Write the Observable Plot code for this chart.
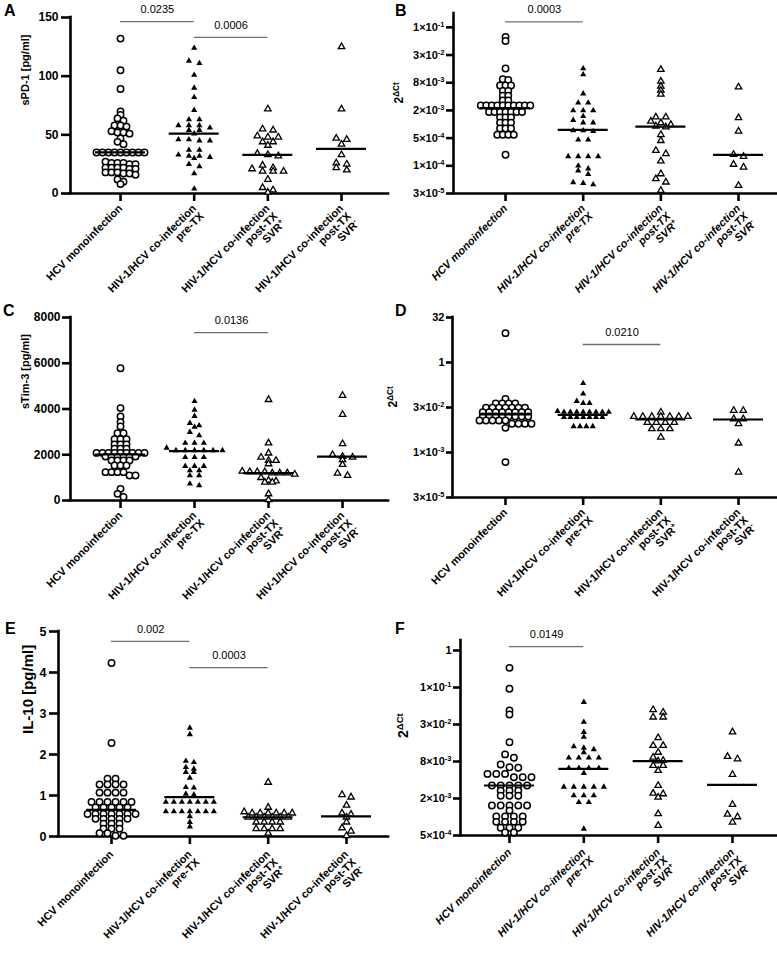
<!DOCTYPE html>
<html><head><meta charset="utf-8">
<script src="https://cdn.jsdelivr.net/npm/d3@7"></script>
<script src="https://cdn.jsdelivr.net/npm/@observablehq/plot@0.6"></script>
<style>
body{margin:0;background:#fff;}
#wrap{position:relative;width:777px;height:956px;overflow:hidden;font-family:"Liberation Sans",Arial,sans-serif;}
.cell{position:absolute;}
.cell svg{overflow:visible;}
.letter{position:absolute;font:bold 16px "Liberation Sans",Arial,sans-serif;line-height:1;}
</style></head>
<body><div id="wrap"></div>
<script>
// ---------- categories ----------
const categories = ["HCV monoinfection", "HIV-1/HCV co-infection\npre-TX", "HIV-1/HCV co-infection\npost-TX\nSVR^+", "HIV-1/HCV co-infection\npost-TX\nSVR^-"];

// ---------- A: sPD-1 [pg/ml] ----------
const sPD1_mono = [132,105,89,70,67,64,62,58,58,57,53,52,52,51,47,44,42,35,35,35,35,35,35,35,35,35,27,26,26,26,25,25,22,22,22,22,21,21,18,18,18,17,17,16,12,10,8];
const sPD1_pre = [124,113,111,101,90,82,71,63,63,58,58,58,56,54,54,51,46,46,45,45,37,37,33,32,32,31,30,25,23,17,4];
const sPD1_svrPos = [72,55,54,49,48,48,44,44,41,34,33,32,24,22,21,19,19,19,12,5,3,1];
const sPD1_svrNeg = [125,72,47,46,42,33,26,25,22,20];
const sPD1_medians = [35,51,33,38];
const sPD1_pvals = [{a:0,b:1,y:146.5,t:"0.0235"},{a:1,b:2,y:133,t:"0.0006"}];
const sPD1_ticks = [0,50,100,150];
const sPD1_tickLabels = ["0","50","100","150"];

// ---------- B: PD-1 mRNA 2^ΔCt ----------
const pd1m_mono = [0.0769,0.0629,0.0159,0.0093,0.0090,0.0068,0.0068,0.0068,0.0052,0.0052,0.0041,0.0041,0.0032,0.0032,0.0025,0.0025,0.0025,0.0025,0.0025,0.0025,0.0025,0.0025,0.0025,0.0025,0.0018,0.0018,0.0018,0.0018,0.0018,0.0018,0.0018,0.00138,0.00138,0.00138,0.00105,0.00105,0.00105,0.00079,0.00079,0.00079,0.00058,0.00058,0.00058,0.00058,0.000213];
const pd1m_pre = [0.0159,0.0118,0.00452,0.00286,0.00286,0.00195,0.00195,0.00195,0.00146,0.00120,0.00106,0.00106,0.000714,0.000714,0.00069,0.000449,0.000449,0.000195,0.000195,0.000195,0.000195,0.000122,0.000106,0.0000956,0.0000804,0.0000531,0.0000513,0.0000478];
const pd1m_svrPos = [0.0151,0.00838,0.00654,0.00534,0.00437,0.00140,0.00140,0.00113,0.00105,0.00096,0.00089,0.00085,0.00058,0.00043,0.000263,0.000223,0.000155,0.0000815,0.0000636,0.0000539,0.0000355];
const pd1m_svrNeg = [0.0063,0.00135,0.00069,0.000215,0.000195,0.000131,0.000114,0.0000455];
const pd1m_medians = [0.0022,0.00074,0.00087,0.00021];
const pd1m_pvals = [{a:0,b:1,y:0.164,t:"0.0003"}];
const pd1m_ticks = [0.000030517578125,0.0001220703125,0.00048828125,0.001953125,0.0078125,0.03125,0.125];
const pd1m_tickLabels = ["3×10^-5","1×10^-4","5×10^-4","2×10^-3","8×10^-3","3×10^-2","1×10^-1"];

// ---------- C: sTim-3 [pg/ml] ----------
const sTim3_mono = [5780,4040,3670,3420,3240,2940,2940,2680,2680,2680,2450,2450,2450,2260,2260,2260,2080,2080,2080,2080,2080,2080,2080,2080,2080,1920,1920,1920,1920,1920,1920,1750,1750,1750,1750,1530,1530,1530,1240,1240,1240,1240,1090,1090,510,290,150];
const sTim3_pre = [4340,3960,3690,3380,3280,3210,2990,2840,2510,2510,2510,2300,2190,2190,2190,2190,2190,2190,1890,1890,1890,1500,1500,1500,1310,1310,1090,1090,730,660];
const sTim3_svrPos = [4410,2510,2070,1890,1750,1750,1600,1280,1250,1250,1250,1200,1200,1200,1150,1000,880,850,800,800,290,30];
const sTim3_svrNeg = [4590,3760,2480,2000,1920,1890,1780,1570,1190,1090];
const sTim3_medians = [2010,2160,1200,1920];
const sTim3_pvals = [{a:1,b:2,y:7340,t:"0.0136"}];
const sTim3_ticks = [0,2000,4000,6000,8000];
const sTim3_tickLabels = ["0","2000","4000","6000","8000"];

// ---------- D: Tim-3 mRNA 2^ΔCt ----------
const tim3m_mono = [9.58,0.0608,0.0424,0.0424,0.0424,0.0424,0.0306,0.0306,0.0306,0.0306,0.0306,0.0306,0.0306,0.0218,0.0218,0.0218,0.0218,0.0218,0.0218,0.0218,0.0218,0.0156,0.0156,0.0156,0.0156,0.0156,0.0156,0.0156,0.0156,0.0115,0.0115,0.0115,0.0115,0.0115,0.00891,0.00891,0.00891,0.00891,0.00651,0.000466];
const tim3m_pre = [0.203,0.0896,0.0508,0.0436,0.0436,0.0235,0.0221,0.0221,0.0221,0.0221,0.0221,0.0221,0.0221,0.0221,0.0148,0.0148,0.0148,0.0148,0.0148,0.0148,0.0148,0.00729,0.00729,0.00729,0.00729];
const tim3m_svrPos = [0.0218,0.0156,0.0156,0.0156,0.0156,0.0156,0.0156,0.0156,0.00982,0.00982,0.00982,0.00982,0.00604,0.00604,0.00604,0.00318];
const tim3m_svrNeg = [0.0249,0.0249,0.0130,0.0130,0.00891,0.00201,0.000214];
const tim3m_medians = [0.0182,0.0178,0.0124,0.0124];
const tim3m_pvals = [{a:1,b:2,y:4,t:"0.0210"}];
const tim3m_ticks = [0.000030517578125,0.0009765625,0.03125,1,32];
const tim3m_tickLabels = ["3×10^-5","1×10^-3","3×10^-2","1","32"];

// ---------- E: IL-10 [pg/ml] ----------
const il10_mono = [4.23,2.28,1.41,1.41,1.27,1.27,1.27,1.27,1.07,1.07,1.07,1.07,0.84,0.84,0.84,0.84,0.84,0.84,0.71,0.71,0.71,0.71,0.71,0.55,0.55,0.55,0.55,0.55,0.55,0.55,0.43,0.43,0.43,0.43,0.43,0.31,0.31,0.31,0.19,0.19,0.19,0.08,0.08,0.02,0.02];
const il10_pre = [2.65,2.49,1.84,1.81,1.69,1.65,1.57,1.57,1.43,1.20,1.19,1.04,1.02,0.84,0.84,0.84,0.84,0.84,0.84,0.84,0.61,0.61,0.61,0.61,0.61,0.61,0.61,0.49,0.35,0.24];
const il10_svrPos = [1.32,0.71,0.60,0.57,0.57,0.57,0.57,0.57,0.57,0.47,0.47,0.47,0.47,0.47,0.47,0.35,0.35,0.35,0.35,0.19,0.19,0.19,0.19,0.08];
const il10_svrNeg = [1.02,0.96,0.76,0.57,0.54,0.47,0.35,0.21,0.13,0.02];
const il10_medians = [0.65,0.96,0.47,0.49];
const il10_pvals = [{a:0,b:1,y:4.76,t:"0.002"},{a:1,b:2,y:4.12,t:"0.0003"}];
const il10_ticks = [0,1,2,3,4,5];
const il10_tickLabels = ["0","1","2","3","4","5"];

// ---------- F: IL-10 mRNA 2^ΔCt ----------
const il10m_mono = [0.261,0.119,0.0529,0.0455,0.0161,0.0102,0.00897,0.0070,0.00631,0.00617,0.00491,0.00491,0.00491,0.00433,0.00433,0.00433,0.00317,0.00317,0.00317,0.00317,0.00317,0.00261,0.00261,0.00261,0.00216,0.00216,0.00216,0.00150,0.00150,0.00150,0.00150,0.00150,0.00124,0.000998,0.000998,0.000998,0.000998,0.000815,0.000815,0.000815,0.000815,0.000652,0.000652,0.000652,0.000546,0.000546];
const il10m_pre = [0.0723,0.0343,0.0235,0.0195,0.0137,0.0130,0.0123,0.0110,0.0090,0.0090,0.0090,0.0090,0.00609,0.00609,0.00609,0.00609,0.00505,0.00302,0.00302,0.00302,0.00302,0.00302,0.00218,0.00218,0.00218,0.0017,0.0017,0.000626];
const il10m_svrPos = [0.0544,0.0494,0.0412,0.0412,0.0190,0.0142,0.0142,0.0110,0.00917,0.0081,0.00793,0.00672,0.00672,0.00556,0.00318,0.00237,0.00232,0.00205,0.00110,0.00071];
const il10m_svrNeg = [0.0235,0.0094,0.0086,0.00481,0.00156,0.00108,0.00098,0.000804];
const il10m_medians = [0.00318,0.00592,0.00793,0.00326];
const il10m_pvals = [{a:0,b:1,y:0.58,t:"0.0149"}];
const il10m_ticks = [0.00048828125,0.001953125,0.0078125,0.03125,0.125,0.5];
const il10m_tickLabels = ["5×10^-4","2×10^-3","8×10^-3","3×10^-2","1×10^-1","1"];

// ---------- layout ----------
const FONT = '"Liberation Sans", Arial, sans-serif';
const panels = [
  {id:"A", left:0, top:0, w:389, h:300, ml:70, mr:1, mt:17, mb:107, xdom:[-0.679,3.638], ydom:[0,150], log:false,
   ticks:sPD1_ticks, tickLabels:sPD1_tickLabels, tickSize:9, tickPad:3, tickFont:12,
   groups:[sPD1_mono,sPD1_pre,sPD1_svrPos,sPD1_svrNeg], medians:sPD1_medians, pvals:sPD1_pvals,
   ylabel:"sPD-1 [pg/ml]", ylabelFont:11, ylabelDx:-45, italic:false, catDy:10, spacing:[6,10.5,10.5,10.5], letter:[4,3]},
  {id:"B", left:389, top:0, w:388, h:300, ml:64, mr:1, mt:13, mb:107, xdom:[-0.67,3.489], ydom:[0.000030517578125,0.25], log:true,
   ticks:pd1m_ticks, tickLabels:pd1m_tickLabels, tickSize:7, tickPad:2, tickFont:11,
   groups:[pd1m_mono,pd1m_pre,pd1m_svrPos,pd1m_svrNeg], medians:pd1m_medians, pvals:pd1m_pvals,
   ylabel:"2^ΔCt", ylabelFont:12, ylabelDx:-54, italic:true, catDy:10, spacing:[5.5,10,10,10], letter:[6,3]},
  {id:"C", left:0, top:300, w:389, h:320, ml:70, mr:1, mt:17, mb:120, xdom:[-0.676,3.621], ydom:[0,8000], log:false,
   ticks:sTim3_ticks, tickLabels:sTim3_tickLabels, tickSize:8, tickPad:2, tickFont:12,
   groups:[sTim3_mono,sTim3_pre,sTim3_svrPos,sTim3_svrNeg], medians:sTim3_medians, pvals:sTim3_pvals,
   ylabel:"sTim-3 [pg/ml]", ylabelFont:11, ylabelDx:-45, italic:false, catDy:10, spacing:[6,9.3,7.5,10], letter:[3,303]},
  {id:"D", left:389, top:300, w:388, h:320, ml:63, mr:1, mt:17, mb:123, xdom:[-0.682,3.489], ydom:[0.000030517578125,32], log:true,
   ticks:tim3m_ticks, tickLabels:tim3m_tickLabels, tickSize:6, tickPad:2, tickFont:11,
   groups:[tim3m_mono,tim3m_pre,tim3m_svrPos,tim3m_svrNeg], medians:tim3m_medians, pvals:tim3m_pvals,
   ylabel:"2^ΔCt", ylabelFont:12, ylabelDx:-59, italic:false, catDy:10, spacing:[6.5,6.4,9,9.5], letter:[6,303]},
  {id:"E", left:0, top:620, w:389, h:336, ml:58, mr:1, mt:11, mb:120, xdom:[-0.677,3.536], ydom:[0,5], log:false,
   ticks:il10_ticks, tickLabels:il10_tickLabels, tickSize:9, tickPad:3, tickFont:12.5,
   groups:[il10_mono,il10_pre,il10_svrPos,il10_svrNeg], medians:il10_medians, pvals:il10_pvals,
   ylabel:"IL-10 [pg/ml]", ylabelFont:15, ylabelDx:-30, italic:false, catDy:13, spacing:[8,8,8,9], letter:[5,621]},
  {id:"F", left:389, top:620, w:388, h:336, ml:71, mr:1, mt:20, mb:121, xdom:[-0.659,3.592], ydom:[0.00048828125,0.727], log:true,
   ticks:il10m_ticks, tickLabels:il10m_tickLabels, tickSize:7, tickPad:2, tickFont:11,
   groups:[il10m_mono,il10m_pre,il10m_svrPos,il10m_svrNeg], medians:il10m_medians, pvals:il10m_pvals,
   ylabel:"2^ΔCt", ylabelFont:14, ylabelDx:-57, italic:true, catDy:12, spacing:[8.8,10,10,10], letter:[6,621]}
];

const markerStyles = [
  {symbol:"circle", r:3.2, fill:"white", stroke:"black", strokeWidth:1.5},
  {symbol:"triangle", r:2.3, fill:"black", stroke:"none"},
  {symbol:"triangle", r:2.4, fill:"white", stroke:"black", strokeWidth:1.3},
  {symbol:"triangle", r:2.4, fill:"white", stroke:"black", strokeWidth:1.3}
];

function supify(root){
  const NS = "http://www.w3.org/2000/svg";
  root.querySelectorAll("text, tspan").forEach(el => {
    if (el.children.length) return;
    const s = el.textContent; const i = s.indexOf("^");
    if (i < 0) return;
    el.textContent = s.slice(0, i);
    const t = document.createElementNS(NS, "tspan");
    t.setAttribute("baseline-shift", "super");
    t.setAttribute("font-size", "68%");
    t.textContent = s.slice(i + 1);
    el.appendChild(t);
  });
}

// GraphPad-like scatter: points whose pixel y fall within one row height share a row, centred on the column.
function layoutRows(vals, yS, sx, rowH, step, g) {
  const items = vals.map(v => ({v, py: yS(v)})).sort((a, b) => a.py - b.py);
  const out = [];
  let row = [];
  const flush = () => {
    const n = row.length;
    row.forEach((it, k) => out.push({g, v: it.v, x: g + ((k - (n - 1) / 2) * sx) / step}));
    row = [];
  };
  for (const it of items) {
    if (row.length && it.py - row[0].py >= rowH) flush();
    row.push(it);
  }
  if (row.length) flush();
  return out;
}

function build(p){
  const yS = (p.log ? d3.scaleLog() : d3.scaleLinear()).domain(p.ydom).range([p.h - p.mb, p.mt]);
  const step = (p.w - p.ml - p.mr) / (p.xdom[1] - p.xdom[0]);
  const pts = [];
  p.groups.forEach((vals, g) => pts.push(...layoutRows(vals, yS, p.spacing[g], 3.5, step, g)));
  const hw = 25 / step;
  const tickData = p.ticks.map((v, i) => ({v, label: p.tickLabels[i]}));
  const medData = p.medians.map((m, i) => ({i, m}));
  const marks = [
    Plot.ruleY([p.ydom[0]], {strokeWidth: 2.6, strokeLinecap: "square"}),
    Plot.ruleX([p.xdom[0]], {strokeWidth: 2.6, strokeLinecap: "square"}),
    Plot.ruleY(tickData, {y: "v", x1: p.xdom[0] - p.tickSize / step, x2: p.xdom[0], strokeWidth: 2.6}),
    Plot.text(tickData, {y: "v", text: "label", frameAnchor: "left", textAnchor: "end", dx: -(p.tickSize + p.tickPad), fontSize: p.tickFont, fontWeight: "bold"}),
    Plot.axisX({ticks: [0,1,2,3], tickFormat: () => "", tickSize: 8, strokeWidth: 2.6, label: null}),
    Plot.text(categories, {x: (d, i) => i, text: d => d, frameAnchor: "bottom", rotate: -45, textAnchor: "end", lineAnchor: "top", dx: -3, dy: p.catDy, fontSize: 11, fontWeight: "bold", fontStyle: p.italic ? "italic" : "normal"}),
    Plot.text([p.ylabel], {text: d => d, frameAnchor: "left", rotate: -90, dx: p.ylabelDx, fontSize: p.ylabelFont, fontWeight: "bold"})
  ];
  markerStyles.forEach((ms, g) => {
    marks.push(Plot.dot(pts.filter(d => d.g === g), {x: "x", y: "v", ...ms}));
  });
  marks.push(Plot.ruleY(medData, {y: "m", x1: d => d.i - hw, x2: d => d.i + hw, strokeWidth: 2.2}));
  marks.push(Plot.ruleY(p.pvals, {y: "y", x1: "a", x2: "b", stroke: "#6e6e6e", strokeWidth: 1.3}));
  marks.push(Plot.text(p.pvals, {x: d => (d.a + d.b) / 2, y: "y", text: "t", dy: -12, fontSize: 11, fontWeight: "normal"}));
  const svg = Plot.plot({
    width: p.w, height: p.h,
    marginLeft: p.ml, marginRight: p.mr, marginTop: p.mt, marginBottom: p.mb,
    x: {type: "linear", domain: p.xdom, axis: null},
    y: {type: p.log ? "log" : "linear", domain: p.ydom, axis: null},
    style: {fontFamily: FONT, fontSize: "12px", fontWeight: "bold", color: "#000", background: "transparent", overflow: "visible"},
    marks
  });
  supify(svg);
  return svg;
}

const wrap = document.getElementById("wrap");
for (const p of panels) {
  const cell = document.createElement("div");
  cell.className = "cell";
  cell.style.left = p.left + "px";
  cell.style.top = p.top + "px";
  cell.appendChild(build(p));
  wrap.appendChild(cell);
  const L = document.createElement("div");
  L.className = "letter";
  L.textContent = p.id;
  L.style.left = (p.left + p.letter[0]) + "px";
  L.style.top = p.letter[1] + "px";
  wrap.appendChild(L);
}
</script>
</body></html>
